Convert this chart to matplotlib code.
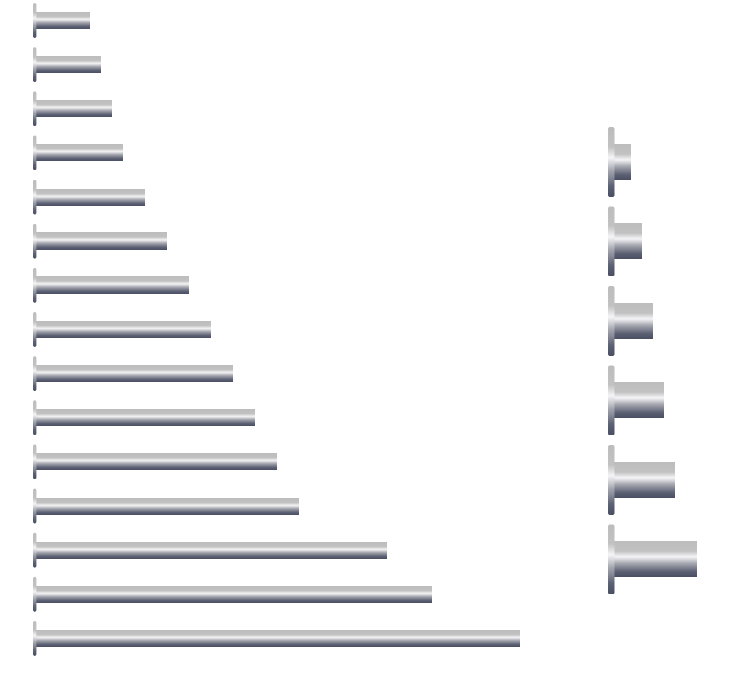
import numpy as np
import matplotlib
matplotlib.use("Agg")
import matplotlib.pyplot as plt
from matplotlib.colors import LinearSegmentedColormap
from matplotlib.patches import FancyBboxPatch

# values
left_values = [5, 6, 7, 8, 10, 12, 14, 16, 18, 20, 22, 24, 32, 36, 44]
right_values = [3, 5, 7, 9, 11, 15]

# metallic cylinder gradient, top -> bottom
metal = LinearSegmentedColormap.from_list("metal", [
    (0.00, "#bdbdbd"),
    (0.28, "#c2c2c3"),
    (0.44, "#f6f6f8"),
    (0.62, "#a6a8b0"),
    (0.85, "#5c6174"),
    (1.00, "#4a4f63"),
])
grad = np.linspace(0, 1, 256).reshape(-1, 1)

W, H = 740, 700
fig = plt.figure(figsize=(W / 100, H / 100), dpi=100)


def make_axes(px_left, px_right, px_zero, px_per_unit, first_c, step, n):
    ax = fig.add_axes([px_left / W, 0, (px_right - px_left) / W, 1])
    ax.set_xlim((px_left - px_zero) / px_per_unit, (px_right - px_zero) / px_per_unit)
    top = -first_c / step
    bottom = (n - 1) + (H - (first_c + step * (n - 1))) / step
    ax.set_ylim(bottom, top)
    ax.axis("off")
    return ax


def draw_bars(ax, values, bar_h, cap_h, cap_x0, cap_x1, px_per_unit, step):
    aspect = px_per_unit / step
    for i, v in enumerate(values):
        ax.imshow(grad, cmap=metal, aspect="auto", origin="upper",
                  extent=(0, v, i + bar_h / 2, i - bar_h / 2),
                  interpolation="bilinear", zorder=2)
        r = 2.0 / px_per_unit
        cap = FancyBboxPatch((cap_x0, i - cap_h / 2), cap_x1 - cap_x0, cap_h,
                             boxstyle=f"round,pad=0,rounding_size={r}",
                             mutation_aspect=aspect,
                             facecolor="none", edgecolor="none")
        ax.add_patch(cap)
        im = ax.imshow(grad, cmap=metal, aspect="auto", origin="upper",
                       extent=(cap_x0, cap_x1, i + cap_h / 2, i - cap_h / 2),
                       interpolation="bilinear", zorder=3)
        im.set_clip_path(cap)


# left panel: 15 thin bars
lx = 11.03
ls = 44.14
axl = make_axes(20, 580, 34, lx, 20.5, ls, len(left_values))
draw_bars(axl, left_values, 17 / ls, 35 / ls, -1.0 / lx, 2.4 / lx, lx, ls)

# right panel: 6 thick bars
rx = 5.5
rs = 79.5
axr = make_axes(598, 740, 614, rx, 162, rs, len(right_values))
draw_bars(axr, right_values, 36 / rs, 70 / rs, -6 / rx, 0.5 / rx, rx, rs)

fig.savefig("out.png", dpi=100)
